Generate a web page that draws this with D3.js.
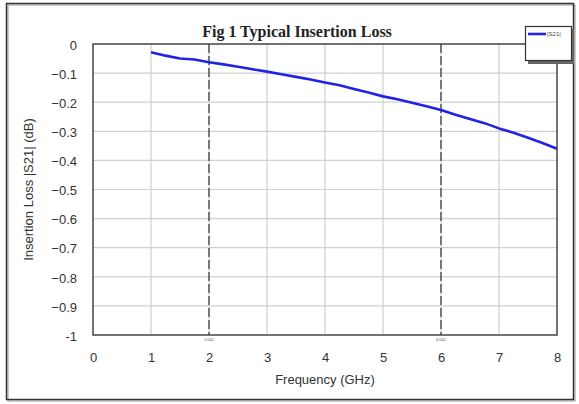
<!DOCTYPE html>
<html><head><meta charset="utf-8">
<script src="https://cdn.jsdelivr.net/npm/d3@7"></script>
<style>body{margin:0;background:#fff;}svg{display:block;}</style>
</head><body>
<svg id="c" width="579" height="404"></svg>
<script>
const freqs = [1.0,1.25,1.5,1.75,2.0,2.25,2.5,2.75,3.0,3.25,3.5,3.75,4.0,4.25,4.5,4.75,5.0,5.25,5.5,5.75,6.0,6.25,6.5,6.75,7.0,7.25,7.5,7.75,8.0];
const s21 = [-0.028,-0.040,-0.050,-0.053,-0.063,-0.070,-0.078,-0.087,-0.095,-0.104,-0.113,-0.122,-0.132,-0.142,-0.155,-0.167,-0.180,-0.190,-0.202,-0.214,-0.227,-0.243,-0.258,-0.272,-0.290,-0.305,-0.322,-0.340,-0.360];
const xTicks = [0,1,2,3,4,5,6,7,8];
const yTicks = [0,-0.1,-0.2,-0.3,-0.4,-0.5,-0.6,-0.7,-0.8,-0.9,-1];
const markers = [2, 6];
const markerLabels = ["2.002", "6.002"];
const title = "Fig 1 Typical Insertion Loss";
const xLabel = "Frequency (GHz)";
const yLabel = "Insertion Loss |S21| (dB)";
const seriesName = "|S21|";

const svg = d3.select("#c");
const L = 93, R = 557, T = 44, B = 335;
const x = d3.scaleLinear().domain([0, 8]).range([L, R]);
const y = d3.scaleLinear().domain([-1, 0]).range([B, T]);

// outer frame
svg.append("rect").attr("x", 8).attr("y", 5).attr("width", 567).attr("height", 396)
  .attr("fill", "none").attr("stroke", "#999").attr("stroke-width", 1);
svg.append("rect").attr("x", 6.5).attr("y", 3.5).attr("width", 567).attr("height", 396)
  .attr("fill", "none").attr("stroke", "#333").attr("stroke-width", 1.5);

// grid
const g = svg.append("g");
g.selectAll(".gx").data(xTicks.slice(1, -1)).join("line")
  .attr("x1", d => x(d)).attr("x2", d => x(d)).attr("y1", T).attr("y2", B)
  .attr("stroke", "#cfcfcf").attr("stroke-width", 1.2);
g.selectAll(".gy").data(yTicks.slice(1, -1)).join("line")
  .attr("x1", L).attr("x2", R).attr("y1", d => y(d)).attr("y2", d => y(d))
  .attr("stroke", "#cfcfcf").attr("stroke-width", 1.2);

// marker dashed lines
g.selectAll(".mk").data(markers).join("line")
  .attr("x1", d => x(d)).attr("x2", d => x(d)).attr("y1", T).attr("y2", B)
  .attr("stroke", "#333").attr("stroke-width", 1.2).attr("stroke-dasharray", "9,3");
g.selectAll(".mkt").data(markers).join("text")
  .attr("x", d => x(d)).attr("y", B + 6).attr("text-anchor", "middle")
  .attr("font-family", "Arial, Liberation Sans, sans-serif").attr("font-size", 4).attr("fill", "#555")
  .text((d, i) => markerLabels[i]);

// plot border
svg.append("rect").attr("x", L).attr("y", T).attr("width", R - L).attr("height", B - T)
  .attr("fill", "none").attr("stroke", "#444").attr("stroke-width", 1.5);

// curve
const line = d3.line().x((d, i) => x(freqs[i])).y(d => y(d));
svg.append("path").datum(s21).attr("d", line).attr("fill", "none")
  .attr("stroke", "#2222e6").attr("stroke-width", 2.6).attr("stroke-linejoin", "round");

// axes labels
const font = "Arial, Liberation Sans, sans-serif";
const xAxis = d3.axisBottom(x).tickValues(xTicks).tickSize(0).tickFormat(d3.format("d"));
const xa = svg.append("g").attr("transform", `translate(0,${B})`).call(xAxis);
xa.select(".domain").remove();
xa.selectAll("text").attr("font-family", font).attr("font-size", 13).attr("fill", "#333").attr("dy", "1.85em");

const yAxis = d3.axisLeft(y).tickValues(yTicks).tickSize(0).tickFormat(d => d === 0 ? "0" : d === -1 ? "-1" : d3.format(".1f")(d));
const ya = svg.append("g").attr("transform", `translate(${L - 13},0)`).call(yAxis);
ya.select(".domain").remove();
ya.selectAll("text").attr("font-family", font).attr("font-size", 13).attr("fill", "#333").attr("dy", "0.4em");

svg.append("text").attr("x", 325).attr("y", 384).attr("text-anchor", "middle")
  .attr("font-family", font).attr("font-size", 13).attr("fill", "#333").text(xLabel);
svg.append("text").attr("transform", `translate(33,${(T + B) / 2}) rotate(-90)`).attr("text-anchor", "middle")
  .attr("font-family", font).attr("font-size", 13).attr("fill", "#333").text(yLabel);

svg.append("text").attr("x", 297).attr("y", 37).attr("text-anchor", "middle")
  .attr("font-family", "Liberation Serif, Times New Roman, serif").attr("font-weight", "bold")
  .attr("font-size", 16).attr("fill", "#222").text(title);

// legend
svg.append("rect").attr("x", 528).attr("y", 29).attr("width", 46).attr("height", 35).attr("fill", "#666");
svg.append("rect").attr("x", 525.5).attr("y", 26.5).attr("width", 46).attr("height", 34)
  .attr("fill", "#fff").attr("stroke", "#333").attr("stroke-width", 1.2);
svg.append("line").attr("x1", 528).attr("x2", 546).attr("y1", 34).attr("y2", 34)
  .attr("stroke", "#2222e6").attr("stroke-width", 2.6);
svg.append("text").attr("x", 547).attr("y", 36).attr("font-family", font).attr("font-size", 6)
  .attr("fill", "#444").text(seriesName);
</script>
</body></html>
